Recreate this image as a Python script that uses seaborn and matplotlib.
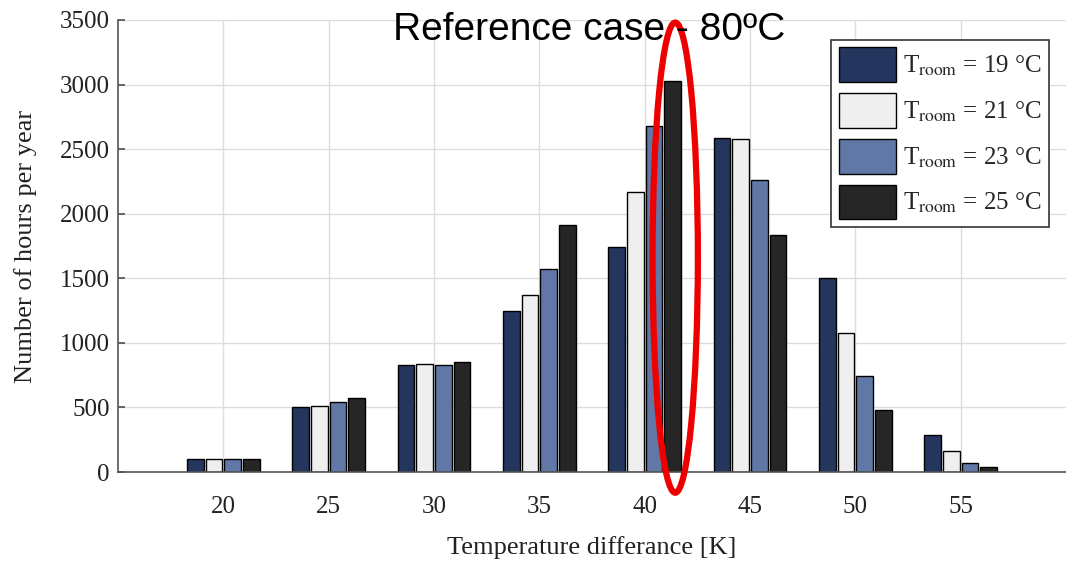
import matplotlib
matplotlib.use("Agg")
import matplotlib.pyplot as plt
from matplotlib.patches import Ellipse
import seaborn as sns
import pandas as pd

# Temperature difference bins [K]
temp_diff = [20, 25, 30, 35, 40, 45, 50, 55]

# Hours per year for each room temperature
hours_19 = [100, 500, 830, 1250, 1745, 2585, 1500, 285]
hours_21 = [100, 515, 835, 1370, 2165, 2580, 1080, 160]
hours_23 = [100, 545, 830, 1575, 2680, 2260, 745, 70]
hours_25 = [100, 570, 855, 1910, 3030, 1835, 480, 35]

room_labels = [
    r"T$_{\mathrm{room}}$ = 19 °C",
    r"T$_{\mathrm{room}}$ = 21 °C",
    r"T$_{\mathrm{room}}$ = 23 °C",
    r"T$_{\mathrm{room}}$ = 25 °C",
]
series = [hours_19, hours_21, hours_23, hours_25]
colors = ["#24365e", "#efefef", "#6178a6", "#262626"]

rows = []
for label, vals in zip(room_labels, series):
    for t, v in zip(temp_diff, vals):
        rows.append({"dT": str(t), "hours": v, "room": label})
df = pd.DataFrame(rows)

sns.set_theme(style="whitegrid")
plt.rcParams["font.family"] = ["Liberation Serif", "DejaVu Serif"]
plt.rcParams["mathtext.fontset"] = "stix"

fig = plt.figure(figsize=(10.66, 5.63), dpi=100)
ax = fig.add_axes([0.1107, 0.1616, 0.8893, 0.8029])

sns.barplot(
    data=df, x="dT", y="hours", hue="room",
    order=[str(t) for t in temp_diff], hue_order=room_labels,
    palette=colors, width=0.71, gap=0.12,
    edgecolor="black", linewidth=1.0, saturation=1, ax=ax,
)

ax.set_xlim(-1.0, 8.0)
ax.set_ylim(0, 3500)
ax.set_yticks(range(0, 3501, 500))
ax.grid(True, color="#dddddd", linewidth=1.0)
ax.set_axisbelow(True)
for s in ["top", "right"]:
    ax.spines[s].set_visible(False)
for s in ["left", "bottom"]:
    ax.spines[s].set_color("#555555")
    ax.spines[s].set_linewidth(1.2)
ax.tick_params(axis="y", direction="in", length=5, color="#555555",
               labelsize=18, labelcolor="#222222", left=True, pad=6)
ax.tick_params(axis="x", labelsize=18, labelcolor="#222222", pad=11)

ax.set_xlabel("Temperature differance [K]", fontsize=19, color="#222222", labelpad=13)
ax.set_ylabel("Number of hours per year", fontsize=19, color="#222222", labelpad=16)

leg = ax.legend(
    loc="upper right", bbox_to_anchor=(0.982, 0.956), fontsize=18,
    frameon=True, fancybox=False, framealpha=1, edgecolor="#333333",
    handlelength=2.3, handleheight=1.75, labelspacing=0.45,
    handletextpad=0.25, borderpad=0.3, borderaxespad=0,
)
leg.get_frame().set_linewidth(1.2)

# Highlight of the 40 K group
ax.add_patch(Ellipse((4.29, 1660), width=0.43, height=3640, fill=False,
                     edgecolor="#ee0000", linewidth=4.5, clip_on=False, zorder=5))

fig.text(0.553, 0.947, "Reference case - 80ºC", ha="center", va="center",
         fontsize=28, family=["Liberation Sans", "DejaVu Sans"], color="black")

fig.savefig("out.png", dpi=100)
